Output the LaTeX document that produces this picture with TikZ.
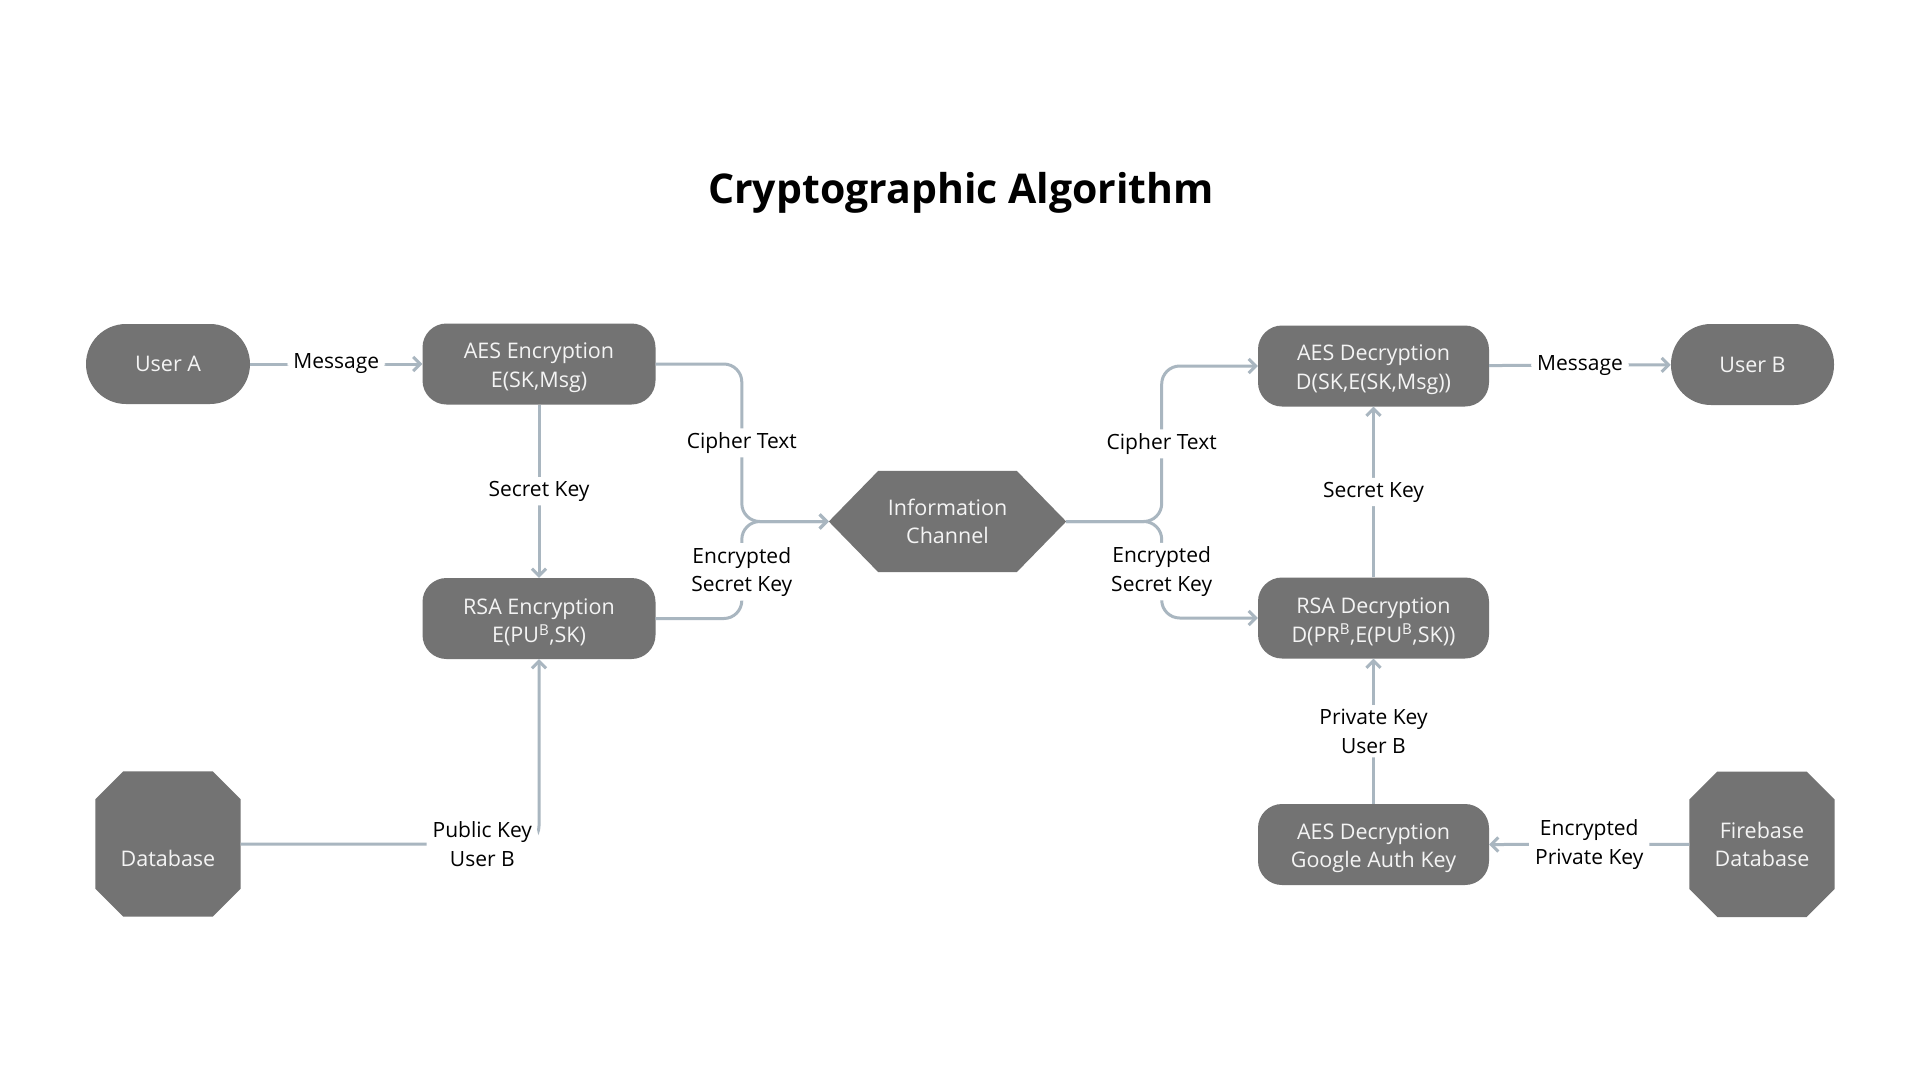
\documentclass[tikz,border=0pt]{standalone}
\usepackage{fontspec}
\setmainfont{Open Sans}
\usetikzlibrary{arrows.meta,backgrounds,calc}
\definecolor{boxfill}{HTML}{737373}
\definecolor{conncol}{HTML}{A9B6C0}
\definecolor{boxtext}{HTML}{F4F4F4}
\newcommand{\lowr}{\rule{0pt}{23pt}}
\begin{document}
\begin{tikzpicture}[x=1pt,y=-1pt,
  box/.style={text=boxtext, minimum width=233pt, minimum height=81pt, align=center, inner sep=0pt, font=\fontsize{21.5}{28.5}\selectfont},
  rbox/.style={box, fill=boxfill, rounded corners=24pt},
  pill/.style={box, fill=boxfill, rounded corners=40pt, minimum width=164pt, minimum height=80pt},
  octo/.style={box, minimum width=145pt, minimum height=145pt},
  lbl/.style={fill=white, text=black, align=center, inner xsep=6pt, inner ysep=4pt, font=\fontsize{21}{28.5}\selectfont},
  conn/.style={draw=conncol, line width=3pt, rounded corners=18pt, -{Straight Barb[length=7pt,width=14pt]}}
]
\useasboundingbox (0,0) rectangle (1920,1080);

\node[font=\fontsize{41}{50}\selectfont\bfseries, anchor=base] (title) at (961,203.3) {Cryptographic Algorithm};

% nodes
\node[pill] (usera) at (168,364) {User A};
\node[rbox] (aesenc) at (539,364) {\lowr AES Encryption\\E(SK,Msg)};
\node[rbox] (rsaenc) at (539,618.5) {\lowr RSA Encryption\\E(PU\textsuperscript{B},SK)};
\node[octo] (db) at (168,844) {\rule{0pt}{16pt}\\Database};
\node[box, minimum width=237pt, minimum height=101pt] (hex) at (947.5,521.5) {Information\\Channel};
\node[rbox, minimum width=231pt] (aesdec) at (1373.5,366) {\lowr AES Decryption\\D(SK,E(SK,Msg))};
\node[pill, minimum width=163pt, minimum height=81pt] (userb) at (1752.5,364.5) {User B};
\node[rbox, minimum width=231pt] (rsadec) at (1373.5,618) {\lowr RSA Decryption\\D(PR\textsuperscript{B},E(PU\textsuperscript{B},SK))};
\node[rbox, minimum width=231pt] (gkey) at (1373.5,844.5) {\lowr AES Decryption\\Google Auth Key};
\node[octo] (fb) at (1762,844.3) {Firebase\\Database};

\coordinate (jl) at (741.8,521.5);
\coordinate (jr) at (1161.7,521.5);

\begin{scope}[on background layer]
  \fill[white] (0,0) rectangle (1920,1080);
  \fill[boxfill] (hex.west) -- ([xshift=49.5pt]hex.north west) -- ([xshift=-49.5pt]hex.north east) -- (hex.east)
     -- ([xshift=-49.5pt]hex.south east) -- ([xshift=49.5pt]hex.south west) -- cycle;
  \foreach \n in {db,fb}{
  \fill[boxfill] ([xshift=28pt]\n.north west) -- ([xshift=-28pt]\n.north east) -- ([yshift=-28pt]\n.north east)
     -- ([yshift=28pt]\n.south east) -- ([xshift=-28pt]\n.south east) -- ([xshift=28pt]\n.south west)
     -- ([yshift=28pt]\n.south west) -- ([yshift=-28pt]\n.north west) -- cycle;
  }
\end{scope}

% connectors
\draw[conn] (usera) -- node[lbl]{Message} (aesenc);
\draw[conn] (aesenc) -- node[lbl]{Secret Key} (rsaenc);
\draw[conn] (aesenc.east) -| node[lbl,pos=0.75]{Cipher Text} (jl) -- (hex.west);
\draw[conn] (rsaenc.east) -| node[lbl,pos=0.74]{Encrypted\\Secret Key} (jl) -- (hex.west);
\draw[conn] (db.east) -| node[lbl,pos=0.405]{Public Key\\User B} (rsaenc.south);
\draw[conn] (hex.east) -- (jr) |- node[lbl,pos=0.25]{Cipher Text} (aesdec.west);
\draw[conn] (hex.east) -- (jr) |- node[lbl,pos=0.26]{Encrypted\\Secret Key} (rsadec.west);
\draw[conn] (rsadec) -- node[lbl]{Secret Key} (aesdec);
\draw[conn] (aesdec) -- node[lbl]{Message} (userb);
\draw[conn] (gkey) -- node[lbl]{Private Key\\User B} (rsadec);
\draw[conn] (fb.west) -- node[lbl]{Encrypted\\Private Key} (gkey.east);
\end{tikzpicture}
\end{document}
